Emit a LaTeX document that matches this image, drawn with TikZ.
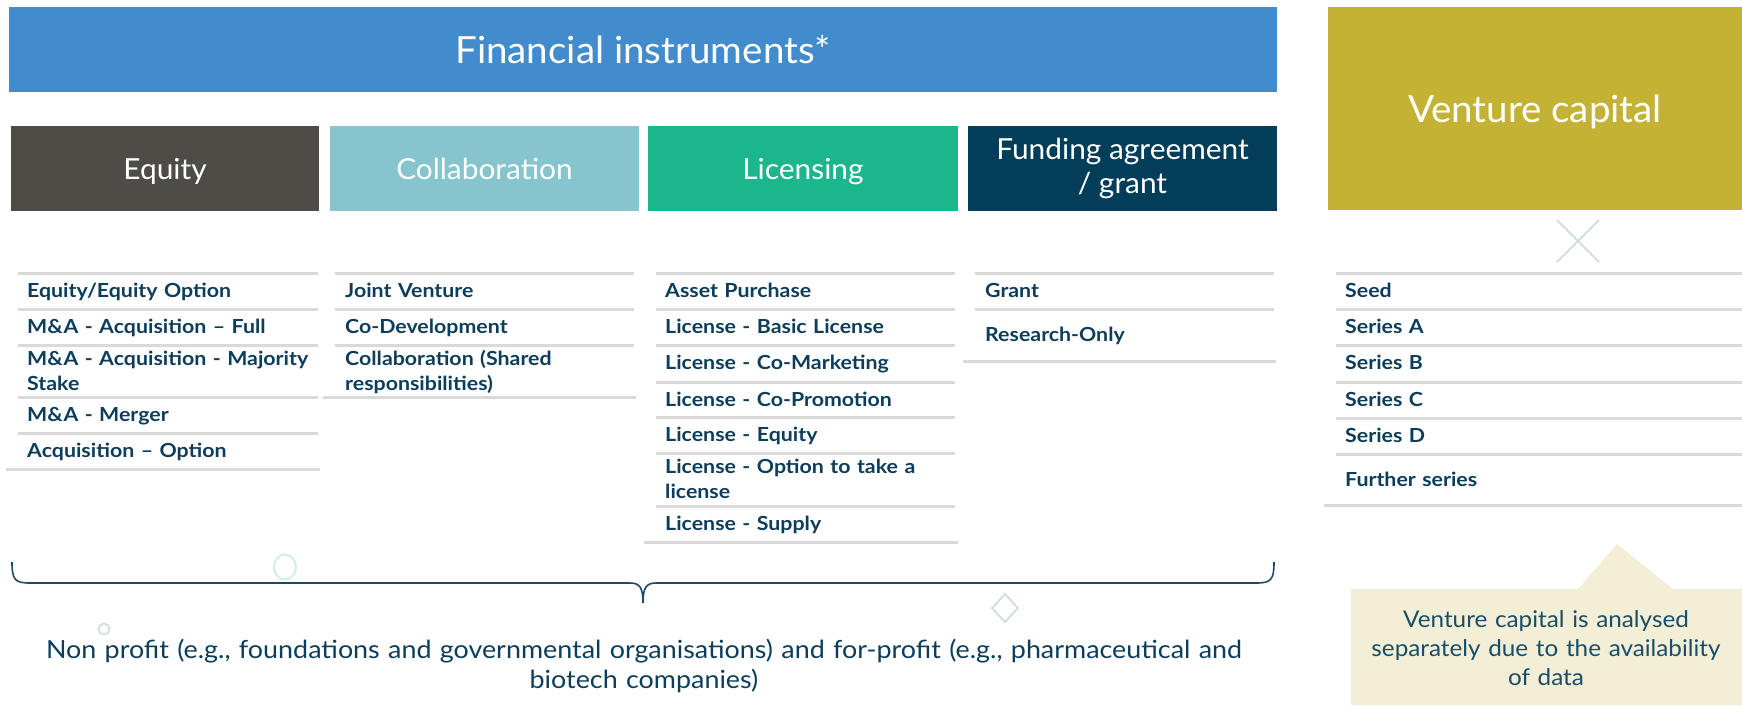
\documentclass[tikz,border=0pt]{standalone}
\usepackage{fontspec}
\setmainfont{Lato}
\newfontfamily\hdrfont[FakeStretch=1.03]{Lato}
\newfontfamily\itemfont[FakeStretch=1.1]{Lato}
\newfontfamily\bodyfont[FakeStretch=1.055]{Lato}
\newfontfamily\footfont[FakeStretch=1.075]{Lato}

\definecolor{cTitle}{HTML}{428BCD}
\definecolor{cEq}{HTML}{4E4C47}
\definecolor{cCol}{HTML}{86C4CE}
\definecolor{cLic}{HTML}{1BB68B}
\definecolor{cFund}{HTML}{023E5A}
\definecolor{cVC}{HTML}{C4B235}
\definecolor{cTxt}{HTML}{0C3D5A}
\definecolor{cRule}{HTML}{D9D9D9}
\definecolor{cNote}{HTML}{F2EFD6}
\definecolor{cNoteTxt}{HTML}{1A4D68}
\definecolor{cBrace}{HTML}{1C4A62}
\definecolor{cDeco}{HTML}{CAD8E0}
\definecolor{cMint}{HTML}{D3EEE8}

\begin{document}
\begin{tikzpicture}[x=1pt,y=-1pt,
  bar/.style={fill=#1, draw=none, inner sep=0pt, text=white, anchor=center},
  hdr/.style={bar=#1, minimum height=85pt, minimum width=309pt, font=\hdrfont\fontsize{29}{34}\selectfont, align=center},
  hdrone/.style={hdr=#1, text height=21pt, text depth=0pt},
  big/.style={bar=#1, font=\hdrfont\fontsize{37.4}{42}\selectfont, text height=27pt, text depth=0pt},
  item/.style={anchor=base west, inner sep=0pt, text=cTxt, font=\itemfont\bfseries\fontsize{19.4}{25}\selectfont, text width=300pt, align=left},
  rulel/.style={draw=cRule, line width=3pt},
  deco/.style={draw=cDeco, line width=1.5pt},
]
\useasboundingbox (0,0) rectangle (1742,705);

% title bars
\node[big=cTitle, minimum width=1268pt, minimum height=85pt] (title) at (643,49.5) {Financial instruments*};
\node[big=cVC, minimum width=414pt, minimum height=203pt] (vc) at (1535,108.5) {Venture capital};

% headers
\node[hdrone=cEq, minimum width=308pt] (eq) at (165,168.5) {Equity};
\node[hdrone=cCol] (col) at (484.5,168.5) {Collaboration};
\node[hdrone=cLic, minimum width=310pt] (lic) at (803,168.5) {Licensing};
\node[hdr=cFund] (fund) at (1122.5,168.5) {Funding agreement\\/ grant};

% rules: Equity
\foreach \y in {273,309,345,397,433} \draw[rulel] (18,\y) -- (318,\y);
\draw[rulel] (6,469) -- (320,469);
% Collaboration
\foreach \y in {273,309,345} \draw[rulel] (335,\y) -- (634,\y);
\draw[rulel] (323,397) -- (636,397);
% Licensing
\foreach \y in {273,309,345,382,417,453,506} \draw[rulel] (656,\y) -- (955,\y);
\draw[rulel] (644,542) -- (958,542);
% Funding
\foreach \y in {273,309} \draw[rulel] (975,\y) -- (1274,\y);
\draw[rulel] (963,361) -- (1276,361);
% VC
\foreach \y in {273,309,345,382,418,454} \draw[rulel] (1336,\y) -- (1742,\y);
\draw[rulel] (1324,505) -- (1742,505);

% items: Equity
\node[item] (e1) at (27,297.7) {Equity/Equity Option};
\node[item] (e2) at (27,333.7) {M\&A - Acquisition – Full};
\node[item] (e3) at (27,365.2) {M\&A - Acquisition - Majority\\Stake};
\node[item] (e4) at (27,421.7) {M\&A - Merger};
\node[item] (e5) at (27,457.7) {Acquisition – Option};
% Collaboration
\node[item] (c1) at (345,297.7) {Joint Venture};
\node[item] (c2) at (345,333.7) {Co-Development};
\node[item] (c3) at (345,365.2) {Collaboration (Shared\\responsibilities)};
% Licensing
\node[item] (l1) at (665,297.7) {Asset Purchase};
\node[item] (l2) at (665,333.7) {License - Basic License};
\node[item] (l3) at (665,369.7) {License - Co-Marketing};
\node[item] (l4) at (665,406.2) {License - Co-Promotion};
\node[item] (l5) at (665,441.7) {License - Equity};
\node[item] (l6) at (665,473.7) {License - Option to take a\\license};
\node[item] (l7) at (665,530.7) {License - Supply};
% Funding
\node[item] (f1) at (985,297.7) {Grant};
\node[item] (f2) at (985,341.7) {Research-Only};
% VC
\node[item] (v1) at (1345,297.7) {Seed};
\node[item] (v2) at (1345,333.7) {Series A};
\node[item] (v3) at (1345,369.7) {Series B};
\node[item] (v4) at (1345,406.7) {Series C};
\node[item] (v5) at (1345,442.7) {Series D};
\node[item] (v6) at (1345,486.2) {Further series};

% brace
\draw[cBrace, line width=1.6pt] (12,562) .. controls (12,580) and (15,583) .. (30,583) -- (630,583)
  .. controls (640,583) and (643,588) .. (643,603)
  .. controls (643,588) and (646,583) .. (656,583) -- (1256,583)
  .. controls (1271,583) and (1274,580) .. (1274,562);

% decorative marks
\draw[cMint, line width=2pt] (285,567) ellipse [x radius=11, y radius=12.5];
\draw[deco] (104,629) circle [radius=5.5];
\draw[deco] (992,608) -- (1005,594) -- (1018,608) -- (1005,622) -- cycle;
\draw[deco] (1557,220) -- (1599,262) (1557,262) -- (1599,220);

% bottom text
\node[anchor=base, inner sep=0pt, text=cTxt, font=\footfont\fontsize{25}{30}\selectfont, text width=1320pt, align=center] (orgs) at (644,658)
  {Non profit (e.g., foundations and governmental organisations) and for-profit (e.g., pharmaceutical and\\biotech companies)};

% callout
\fill[cNote] (1351,589) -- (1578,589) -- (1617,544) -- (1673,589) -- (1742,589) -- (1742,705) -- (1351,705) -- cycle;
\node[anchor=base, inner sep=0pt, text=cNoteTxt, font=\bodyfont\fontsize{23}{29}\selectfont, text width=390pt, align=center] (note) at (1546,627)
  {Venture capital is analysed\\separately due to the availability\\of data};
\end{tikzpicture}
\end{document}
